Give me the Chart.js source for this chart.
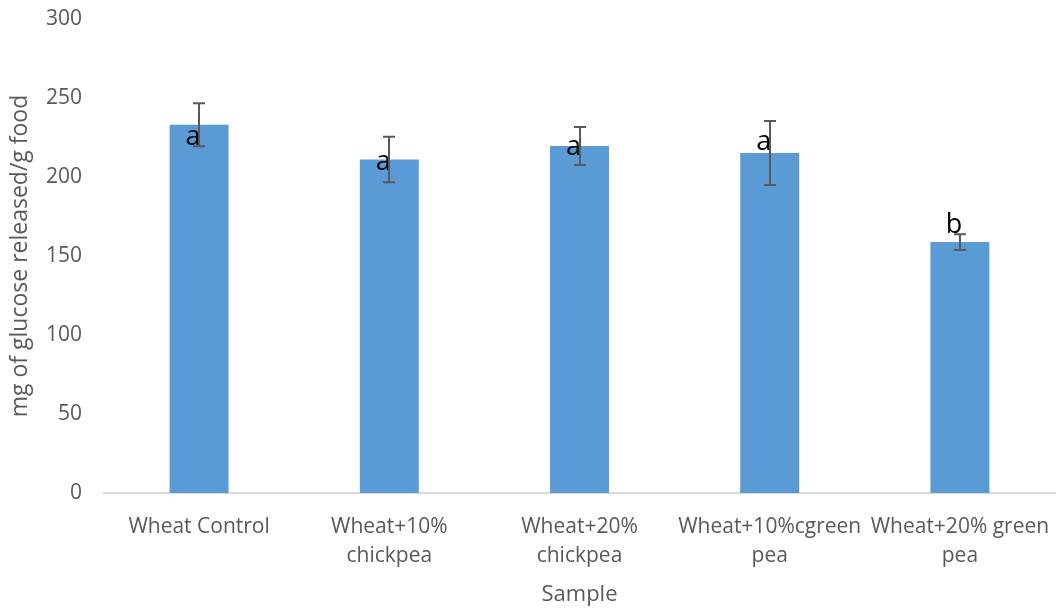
<!DOCTYPE html>
<html>
<head>
<meta charset="utf-8">
<script src="https://cdn.jsdelivr.net/npm/chart.js@4/dist/chart.umd.min.js"></script>
<style>
  html, body { margin: 0; padding: 0; background: #ffffff; }
  #wrap { width: 1059px; height: 610px; }
</style>
</head>
<body>
<div id="wrap"><canvas id="c" width="1059" height="610"></canvas></div>
<script>
const categories = [
  "Wheat Control",
  ["Wheat+10%", "chickpea"],
  ["Wheat+20%", "chickpea"],
  ["Wheat+10%cgreen", "pea"],
  ["Wheat+20% green", "pea"]
];
const glucoseValues = [233.0, 211.1, 219.6, 215.2, 158.8];
const errorValues = [13.6, 14.4, 12.0, 20.2, 5.0];
const significanceLetters = ["a", "a", "a", "a", "b"];
const letterValues = [225, 209.5, 219, 222, 169.5];
const yTicks = [0, 50, 100, 150, 200, 250, 300];

const FONT = "'Open Sans', 'DejaVu Sans', sans-serif";

const overlayPlugin = {
  id: 'overlay',
  afterDatasetsDraw(chart) {
    const ctx = chart.ctx;
    const meta = chart.getDatasetMeta(0);
    const ys = chart.scales.y;
    ctx.save();
    // significance letters
    ctx.fillStyle = '#000000';
    ctx.font = "27px " + FONT;
    ctx.textAlign = 'center';
    ctx.textBaseline = 'middle';
    meta.data.forEach((bar, i) => {
      ctx.fillText(significanceLetters[i], bar.x - 6, ys.getPixelForValue(letterValues[i]));
    });
    // error bars
    ctx.strokeStyle = '#595959';
    ctx.lineWidth = 2;
    meta.data.forEach((bar, i) => {
      const x = Math.round(bar.x);
      const yt = ys.getPixelForValue(glucoseValues[i] + errorValues[i]);
      const yb = ys.getPixelForValue(glucoseValues[i] - errorValues[i]);
      ctx.beginPath();
      ctx.moveTo(x, yt); ctx.lineTo(x, yb);
      ctx.moveTo(x - 6, yt); ctx.lineTo(x + 6, yt);
      ctx.moveTo(x - 6, yb); ctx.lineTo(x + 6, yb);
      ctx.stroke();
    });
    ctx.restore();
  }
};

new Chart(document.getElementById('c'), {
  type: 'bar',
  data: {
    labels: categories,
    datasets: [{
      data: glucoseValues,
      backgroundColor: '#5B9BD5',
      borderWidth: 0,
      categoryPercentage: 1.0,
      barPercentage: 0.31
    }]
  },
  options: {
    responsive: false,
    animation: false,
    devicePixelRatio: 1,
    layout: { padding: { top: 19, right: 4, bottom: 0, left: 0 } },
    plugins: { legend: { display: false }, tooltip: { enabled: false } },
    scales: {
      x: {
        grid: { display: false, drawTicks: false },
        border: { display: true, color: '#d9d9d9', width: 2 },
        ticks: {
          color: '#595959',
          font: { family: FONT, size: 21, lineHeight: 1.4 },
          maxRotation: 0,
          autoSkip: false,
          padding: 19
        },
        title: {
          display: true,
          text: 'Sample',
          color: '#595959',
          font: { family: FONT, size: 22 },
          padding: { top: 2, bottom: 2 }
        },
        afterFit(scale) {
          scale.height = 117;
          scale.paddingLeft = 0;
          scale.paddingRight = 0;
        }
      },
      y: {
        min: 0,
        max: 300,
        afterBuildTicks(scale) { scale.ticks = yTicks.map(v => ({ value: v })); },
        grid: { display: false, drawTicks: false },
        border: { display: false },
        ticks: {
          color: '#595959',
          font: { family: FONT, size: 21 },
          padding: 22
        },
        title: {
          display: true,
          text: 'mg of glucose released/g food',
          color: '#595959',
          font: { family: FONT, size: 23 },
          padding: { top: 7, bottom: 4 }
        },
        afterFit(scale) {
          scale.width = 104;
          scale.paddingTop = 0;
          scale.paddingBottom = 0;
        }
      }
    }
  },
  plugins: [overlayPlugin]
});
</script>
</body>
</html>
